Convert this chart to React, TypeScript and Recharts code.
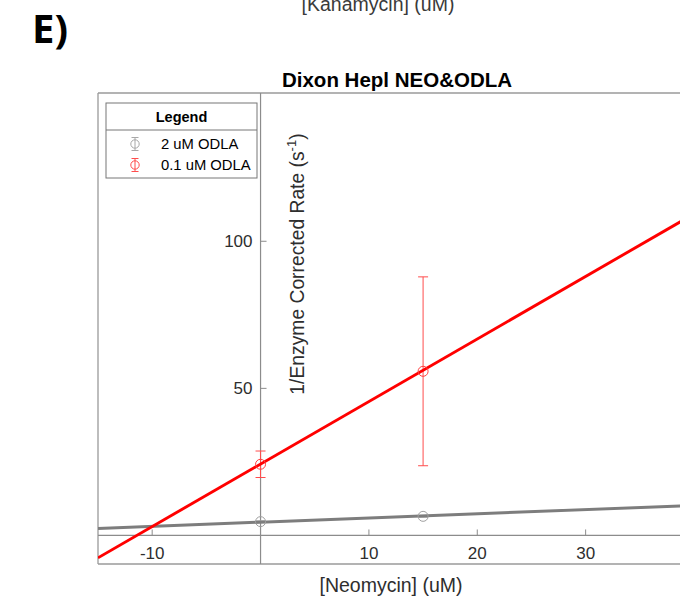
import {
  ComposedChart,
  XAxis,
  YAxis,
  Scatter,
  ErrorBar,
  ReferenceLine,
  ReferenceDot,
  Customized,
} from 'recharts';

// [Neomycin] (uM) at which rates were measured
const concentrations = [0, 15];

// 1/rate for each ODLA level, with error bar half-widths
const odla2Rate = [4.7, 6.5];
const odla2Err = [0.3, 0.3];
const odla01Rate = [24.2, 55.8];
const odla01Err = [4.5, 32.1];

// linear fits, read at the plot's left and right limits
const fitX = [-15, 40];
const odla2FitY = [2.4, 10.2];
const odla01FitY = [-7.6, 109.3];

const xDomain: [number, number] = [-15, 40];
const yDomain: [number, number] = [-9.7, 150.4];
const xTicks = [-10, 10, 20, 30];
const yTicks = [50, 100];

const odla2Points = concentrations.map((x, i) => ({ x, y: odla2Rate[i], err: odla2Err[i] }));
const odla01Points = concentrations.map((x, i) => ({ x, y: odla01Rate[i], err: odla01Err[i] }));
const odla2Fit = fitX.map((x, i) => ({ x, y: odla2FitY[i] }));
const odla01Fit = fitX.map((x, i) => ({ x, y: odla01FitY[i] }));

const FONT = '"Liberation Sans", Arial, Helvetica, sans-serif';
const AXIS_GRAY = '#8c8c8c';
const BOX_GRAY = '#9a9a9a';
const TEXT = '#2e2e2e';

function Circle({ cx, cy, color }: any) {
  if (cx == null || cy == null) return <g />;
  return <circle cx={cx} cy={cy} r={5} fill="none" stroke={color} strokeWidth={1} />;
}

function NoDot() {
  return <g />;
}

// x ticks sit on the y=0 line, pointing up, labels below
function XTick({ cx, cy, value }: any) {
  return (
    <g>
      <line x1={cx} y1={cy} x2={cx} y2={cy - 6} stroke={AXIS_GRAY} strokeWidth={1} />
      <text x={cx} y={cy + 24} textAnchor="middle" fontSize={17} fontFamily={FONT} fill={TEXT}>
        {value}
      </text>
    </g>
  );
}

// y ticks sit on the x=0 line, pointing right, labels to the left
function YTick({ cx, cy, value }: any) {
  return (
    <g>
      <line x1={cx} y1={cy} x2={cx + 6} y2={cy} stroke={AXIS_GRAY} strokeWidth={1} />
      <text x={cx - 8} y={cy} dy="0.35em" textAnchor="end" fontSize={17} fontFamily={FONT} fill={TEXT}>
        {value}
      </text>
    </g>
  );
}

function LegendIcon({ cx, cy, color }: { cx: number; cy: number; color: string }) {
  return (
    <g stroke={color} strokeWidth={1} fill="none">
      <line x1={cx} y1={cy - 6.5} x2={cx} y2={cy + 6.5} />
      <line x1={cx - 3.5} y1={cy - 6.5} x2={cx + 3.5} y2={cy - 6.5} />
      <line x1={cx - 3.5} y1={cy + 6.5} x2={cx + 3.5} y2={cy + 6.5} />
      <circle cx={cx} cy={cy} r={4.2} />
    </g>
  );
}

function Annotations() {
  return (
    <g fontFamily={FONT}>
      <text x={32} y={43} fontSize={40} fontWeight={700} fontFamily='"Open Sans", sans-serif' fill="#000">
        E)
      </text>
      <text x={378} y={11} textAnchor="middle" fontSize={19.5} fill="#3a3a3a">
        [Kanamycin] (uM)
      </text>
      <text x={397} y={87} textAnchor="middle" fontSize={20.5} fontWeight={700} fill="#000">
        Dixon Hepl NEO&amp;ODLA
      </text>
      <text x={391} y={592} textAnchor="middle" fontSize={19.5} fill={TEXT}>
        [Neomycin] (uM)
      </text>
      <text
        x={297}
        y={264}
        dy="0.35em"
        textAnchor="middle"
        fontSize={19.3}
        fill={TEXT}
        transform="rotate(-90 297 264)"
      >
        <tspan>1/Enzyme Corrected Rate (s</tspan>
        <tspan dy={-8} fontSize={13}>-1</tspan>
        <tspan dy={8}>)</tspan>
      </text>

      {/* legend box */}
      <rect x={106} y={103} width={151} height={75} fill="#fff" stroke="#777" strokeWidth={1} />
      <line x1={106} y1={130} x2={257} y2={130} stroke="#777" strokeWidth={1} />
      <text x={181.5} y={122} textAnchor="middle" fontSize={14.5} fontWeight={700} fill="#000">
        Legend
      </text>
      <LegendIcon cx={135} cy={144} color="#a8a8a8" />
      <text x={161} y={149} fontSize={14.8} fill="#000">2 uM ODLA</text>
      <LegendIcon cx={135} cy={165} color="#ff4d4d" />
      <text x={161} y={170} fontSize={14.8} fill="#000">0.1 uM ODLA</text>
    </g>
  );
}

export default function App() {
  return (
    <div
      style={{
        position: 'absolute',
        left: 0,
        top: 0,
        width: 680,
        height: 606,
        overflow: 'hidden',
        background: '#fff',
      }}
    >
      <ComposedChart width={760} height={606} margin={{ top: 93, right: 66, bottom: 42, left: 98 }}>
        <XAxis type="number" dataKey="x" domain={xDomain} allowDataOverflow hide />
        <YAxis type="number" dataKey="y" domain={yDomain} allowDataOverflow hide />

        {/* frame: top, bottom, left (right side runs off the page) */}
        <ReferenceLine y={yDomain[1]} stroke={BOX_GRAY} strokeWidth={1.3} />
        <ReferenceLine y={yDomain[0]} stroke={BOX_GRAY} strokeWidth={1.3} />
        <ReferenceLine x={xDomain[0]} stroke={BOX_GRAY} strokeWidth={1.3} />

        {/* axes through the origin */}
        <ReferenceLine y={0} stroke={AXIS_GRAY} strokeWidth={1.2} />
        <ReferenceLine x={0} stroke={AXIS_GRAY} strokeWidth={1.2} />
        {xTicks.map((t) => (
          <ReferenceDot key={`x${t}`} x={t} y={0} shape={(p: any) => <XTick {...p} value={t} />} />
        ))}
        {yTicks.map((t) => (
          <ReferenceDot key={`y${t}`} x={0} y={t} shape={(p: any) => <YTick {...p} value={t} />} />
        ))}

        <Scatter
          data={odla2Fit}
          line={{ stroke: '#7d7d7d', strokeWidth: 3 }}
          shape={NoDot}
          isAnimationActive={false}
        />
        <Scatter
          data={odla01Fit}
          line={{ stroke: '#ff0000', strokeWidth: 2.9 }}
          shape={NoDot}
          isAnimationActive={false}
        />

        <Scatter data={odla2Points} shape={(p: any) => <Circle {...p} color="#a0a0a0" />} isAnimationActive={false}>
          <ErrorBar dataKey="err" direction="y" width={5} stroke="#a0a0a0" strokeWidth={1} />
        </Scatter>
        <Scatter data={odla01Points} shape={(p: any) => <Circle {...p} color="#ff4040" />} isAnimationActive={false}>
          <ErrorBar dataKey="err" direction="y" width={5} stroke="#ff4d4d" strokeWidth={1} />
        </Scatter>

        <Customized component={Annotations} />
      </ComposedChart>
    </div>
  );
}
